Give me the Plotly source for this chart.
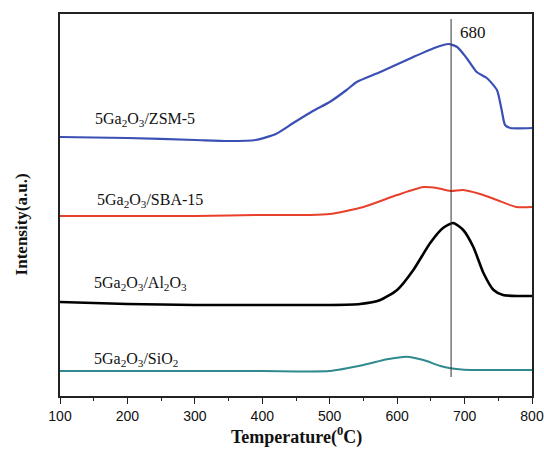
import plotly.graph_objects as go

# Temperature (°C) and intensity (a.u.)
zsm_T = [100, 200, 300, 350, 390, 420, 446, 475, 500, 525, 540, 575, 624, 659, 676, 689, 703, 718, 733, 748, 755, 760, 768, 800]
zsm_I = [259, 258, 256, 255, 256, 262, 273, 285, 294, 306, 314, 324, 339, 349, 352, 349, 338, 324, 318, 306, 286, 271, 268, 268]

sba_T = [100, 200, 300, 400, 471, 500, 550, 600, 639, 659, 679, 698, 723, 748, 777, 800]
sba_I = [180, 180, 180, 181, 181, 182, 189, 201, 209, 208, 205, 206, 202, 196, 189, 189]

al_T = [100, 200, 300, 400, 500, 545, 575, 600, 624, 649, 668, 683, 698, 713, 728, 743, 757, 780, 800]
al_I = [94, 92, 91, 91, 91, 92, 96, 106, 126, 153, 168, 173, 166, 149, 123, 106, 101, 100, 100]

si_T = [100, 200, 300, 400, 500, 550, 585, 614, 639, 664, 679, 708, 750, 800]
si_I = [25, 25, 25, 25, 25, 31, 36.7, 39.3, 36, 30, 27.7, 26, 26, 26]

peak_T = 680
x_ticks = [100, 200, 300, 400, 500, 600, 700, 800]

series = [
    (zsm_T, zsm_I, "#3B50B4", 2.2),
    (sba_T, sba_I, "#E8402A", 2.0),
    (al_T, al_I, "#000000", 2.6),
    (si_T, si_I, "#2E8A8E", 2.0),
]

fig = go.Figure()
for T, I, c, w in series:
    fig.add_trace(go.Scatter(x=T, y=I, mode="lines", line=dict(color=c, width=w, shape="spline", smoothing=0.6),
                             showlegend=False, hoverinfo="skip"))

fig.add_shape(type="line", x0=peak_T, x1=peak_T, y0=19, y1=377, xref="x", yref="y",
              line=dict(color="#333333", width=1))

serif = "Liberation Serif, Times New Roman, serif"
labels = [
    ("5Ga<sub>2</sub>O<sub>3</sub>/ZSM-5", 149, 277),
    ("5Ga<sub>2</sub>O<sub>3</sub>/SBA-15", 152, 196),
    ("5Ga<sub>2</sub>O<sub>3</sub>/Al<sub>2</sub>O<sub>3</sub>", 148, 113),
    ("5Ga<sub>2</sub>O<sub>3</sub>/SiO<sub>2</sub>", 148, 37),
]
for txt, x, y in labels:
    fig.add_annotation(x=x, y=y, text=txt, showarrow=False, xanchor="left", yanchor="middle",
                       font=dict(family=serif, size=16, color="#111111"))

fig.add_annotation(x=690, y=364, text=str(peak_T), showarrow=False, xanchor="left", yanchor="middle",
                   font=dict(family=serif, size=17, color="#111111"))

fig.add_annotation(xref="paper", yref="paper", x=0.5, y=-0.142, text="<b>Temperature(<sup>0</sup>C)</b>",
                   showarrow=False, xanchor="center", yanchor="bottom",
                   font=dict(family=serif, size=18, color="#111111"))
fig.add_annotation(xref="paper", yref="paper", x=-0.082, y=0.45, text="<b>Intensity(a.u.)</b>", textangle=-90,
                   showarrow=False, xanchor="center", yanchor="middle",
                   font=dict(family=serif, size=17, color="#111111"))

fig.update_xaxes(range=[100, 800], tickvals=x_ticks, ticks="outside", ticklen=6, tickwidth=1.3,
                 tickcolor="#222", showline=True, linecolor="#222", linewidth=1.5, mirror=True,
                 showgrid=False, zeroline=False, automargin=False,
                 minor=dict(dtick=50, ticks="outside", ticklen=3, tickcolor="#222", tickwidth=1.2),
                 tickfont=dict(family="Liberation Sans, Arial, sans-serif", size=14, color="#111"))
fig.update_yaxes(range=[0, 382], showticklabels=False, ticks="", showline=True, linecolor="#222",
                 linewidth=1.5, mirror=True, showgrid=False, zeroline=False, automargin=False)

fig.update_layout(width=544, height=451, margin=dict(l=60, r=12, t=14, b=55, autoexpand=False),
                  plot_bgcolor="white", paper_bgcolor="white")

fig.write_html("out.html", config={"displayModeBar": False},
               post_script="document.body.style.margin='0';document.body.style.overflow='hidden';")
